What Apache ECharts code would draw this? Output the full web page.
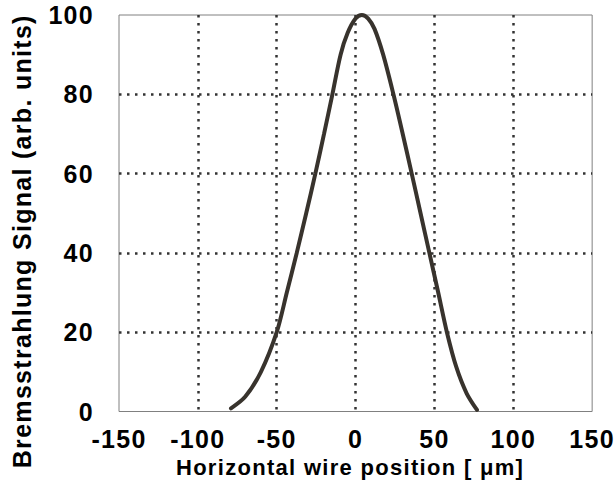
<!DOCTYPE html>
<html>
<head>
<meta charset="utf-8">
<script src="https://cdn.jsdelivr.net/npm/echarts@6/dist/echarts.min.js"></script>
<style>
    html, body { margin: 0; padding: 0; background: #fff; }
    #main { width: 616px; height: 493px; }
    /* the original figure has slightly spaced-out lettering */
    #main text { letter-spacing: 1.3px; }
</style>
</head>
<body>
<div id="main"></div>
<script>
// wire position (um) and bremsstrahlung signal (arb. units)
var xPos = [-79, -70, -60, -50, -43.6, -37.3, -31.3, -25.5, -20, -14.7, -9.5, -5, 0, 4, 8, 12, 17.5, 24, 29.9, 35.6, 41.2, 46.8, 52.4, 57.9, 63.8, 70.4, 77];
var signal = [0.8, 3.7, 10, 20, 30, 40, 50, 60, 70, 80, 90, 95.5, 99.1, 100, 99.1, 96.5, 90, 80, 70, 60, 50, 40, 30, 20, 11.3, 4.6, 0.4];

var xTicks = [-150, -100, -50, 0, 50, 100, 150];
var yTicks = [0, 20, 40, 60, 80, 100];

var fontName = "'Liberation Sans', Arial, sans-serif";

var points = [];
for (var i = 0; i < xPos.length; i++) {
    points.push([xPos[i], signal[i]]);
}

var myChart = echarts.init(document.getElementById('main'), null, {renderer: 'svg'});
myChart.setOption({
    animation: false,
    backgroundColor: '#fff',
    grid: {
        left: 119,
        right: 21.5,
        top: 15,
        bottom: 81.5,
        show: true,
        borderColor: '#808080',
        borderWidth: 1
    },
    xAxis: {
        type: 'value',
        min: xTicks[0],
        max: xTicks[xTicks.length - 1],
        interval: 50,
        name: 'Horizontal wire position [ μm]',
        nameLocation: 'middle',
        nameGap: 45,
        nameTextStyle: {
            fontFamily: fontName,
            fontWeight: 'bold',
            fontSize: 22,
            color: '#000',
            padding: [0, 11, 0, 0]
        },
        axisLine: {show: false},
        axisTick: {show: false},
        axisLabel: {
            margin: 15,
            fontFamily: fontName,
            fontWeight: 'bold',
            fontSize: 25,
            color: '#000'
        },
        splitLine: {
            show: true,
            showMinLine: false,
            showMaxLine: false,
            lineStyle: {color: '#333', width: 2.5, type: [2.5, 5.5]}
        }
    },
    yAxis: {
        type: 'value',
        min: yTicks[0],
        max: yTicks[yTicks.length - 1],
        interval: 20,
        name: 'Bremsstrahlung Signal (arb. units)',
        nameLocation: 'middle',
        nameGap: 85,
        nameTextStyle: {
            fontFamily: fontName,
            fontWeight: 'bold',
            fontSize: 25,
            color: '#000',
            padding: [0, 56, 0, 0]
        },
        axisLine: {show: false},
        axisTick: {show: false},
        axisLabel: {
            margin: 25,
            fontFamily: fontName,
            fontWeight: 'bold',
            fontSize: 25,
            color: '#000'
        },
        splitLine: {
            show: true,
            showMinLine: false,
            showMaxLine: false,
            lineStyle: {color: '#333', width: 2.5, type: [2.5, 5.5]}
        }
    },
    series: [{
        type: 'line',
        data: points,
        smooth: 0.3,
        showSymbol: false,
        clip: false,
        lineStyle: {color: '#38332d', width: 4, cap: 'round'}
    }]
});
</script>
</body>
</html>
